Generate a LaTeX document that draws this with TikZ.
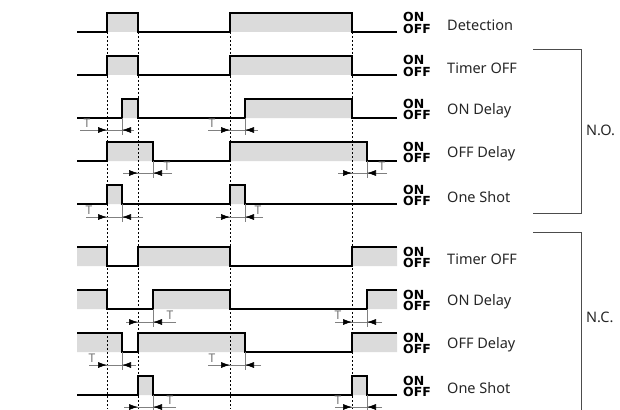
\documentclass[tikz,border=0pt]{standalone}
\usepackage{fontspec}
\setmainfont{Noto Sans}
\newfontfamily\onofffont{DejaVu Sans}
\usetikzlibrary{arrows.meta}

% T marker: y, low level, left tail, reference edge, output edge, right tail, x of the T
\newcommand{\tmark}[7]{%
  \draw[tline] (#3,#1) -- (#6,#1);
  \draw[tline] (#5,#2) -- (#5,#1+5);
  \draw[tarrow] (#3,#1) -- (#4,#1);
  \draw[tarrow] (#6,#1) -- (#5,#1);
  \node[tlabel] (T#1x#7) at (#7,#1-7) {T};
}

\begin{document}
\begin{tikzpicture}[x=1pt,y=-1pt,
    sig/.style={line width=1.2pt,line join=miter},
    sigfill/.style={fill=black!14},
    guide/.style={line width=0.6pt,dash pattern=on 2pt off 2pt},
    tline/.style={draw=black!50,line width=0.6pt},
    tarrow/.style={draw=black!50,line width=0.6pt,-{Latex[length=9pt,width=6pt,black]}},
    tlabel/.style={text=black!55,font=\fontsize{12}{12}\selectfont,inner sep=0pt},
    onoff/.style={anchor=base west,inner sep=0pt,font=\onofffont\bfseries\fontsize{12.5}{12.5}\selectfont},
    rowlabel/.style={anchor=west,inner sep=0pt,text=black!85,font=\fontsize{14.5}{14.5}\selectfont},
    bracket/.style={draw=black!70,line width=0.8pt}]
\useasboundingbox (0,0) rectangle (620,409);

% gray areas under the ON levels
\fill[sigfill] (107,13) rectangle (138,32) (230,13) rectangle (352,32);
\fill[sigfill] (107,56) rectangle (138,75) (230,56) rectangle (352,75);
\fill[sigfill] (122,99) rectangle (138,118) (245,99) rectangle (352,118);
\fill[sigfill] (107,142) rectangle (153,161) (230,142) rectangle (367,161);
\fill[sigfill] (107,185) rectangle (122,204) (230,185) rectangle (245,204);
\fill[sigfill] (77,247) rectangle (107,266) (138,247) rectangle (230,266) (352,247) rectangle (397,266);
\fill[sigfill] (77,290) rectangle (107,309) (153,290) rectangle (230,309) (367,290) rectangle (397,309);
\fill[sigfill] (77,333) rectangle (122,352) (138,333) rectangle (245,352) (352,333) rectangle (397,352);
\fill[sigfill] (138,376) rectangle (153,395) (352,376) rectangle (367,395);

% dotted guides from the detection edges
\draw[guide] (107,32) -- (107,409);
\draw[guide] (138,32) -- (138,409);
\draw[guide] (230,32) -- (230,409);
\draw[guide] (352,32) -- (352,409);

% N.O. outputs
\draw[sig] (77,32) -| (107,13) -| (138,32) -| (230,13) -| (352,32) -- (397,32);
\draw[sig] (77,75) -| (107,56) -| (138,75) -| (230,56) -| (352,75) -- (397,75);
\draw[sig] (77,118) -| (122,99) -| (138,118) -| (245,99) -| (352,118) -- (397,118);
\draw[sig] (77,161) -| (107,142) -| (153,161) -| (230,142) -| (367,161) -- (397,161);
\draw[sig] (77,204) -| (107,185) -| (122,204) -| (230,185) -| (245,204) -- (397,204);

% N.C. outputs
\draw[sig] (77,247) -| (107,266) -| (138,247) -| (230,266) -| (352,247) -- (397,247);
\draw[sig] (77,290) -| (107,309) -| (153,290) -| (230,309) -| (367,290) -- (397,290);
\draw[sig] (77,333) -| (122,352) -| (138,333) -| (245,352) -| (352,333) -- (397,333);
\draw[sig] (77,395) -| (138,376) -| (153,395) -| (352,376) -| (367,395) -- (397,395);

% delay times
\tmark{130}{118}{80}{107}{122}{134}{87}
\tmark{130}{118}{208}{230}{245}{258}{212}
\tmark{173}{161}{123}{138}{153}{172}{167}
\tmark{173}{161}{338}{352}{367}{387}{382}
\tmark{217}{204}{86}{107}{122}{143}{89}
\tmark{217}{204}{216}{230}{245}{263}{258}
\tmark{322}{309}{126}{138}{153}{176}{170}
\tmark{322}{309}{335}{352}{367}{382}{338}
\tmark{365}{352}{89}{107}{122}{136}{92}
\tmark{365}{352}{208}{230}{245}{261}{212}
\tmark{407}{395}{124}{138}{153}{176}{170}
\tmark{407}{395}{335}{352}{367}{382}{338}

% level marks and names
\node[onoff] (on1) at (403,22) {ON};   \node[onoff] (off1) at (403,33.5) {OFF};
\node[rowlabel] (det) at (447,25) {Detection};
\node[onoff] (on2) at (403,65) {ON};   \node[onoff] (off2) at (403,76.5) {OFF};
\node[rowlabel] (notoff) at (447,68) {Timer OFF};
\node[onoff] (on3) at (403,108) {ON};  \node[onoff] (off3) at (403,119.5) {OFF};
\node[rowlabel] (noon) at (447,111) {ON Delay};
\node[onoff] (on4) at (403,151) {ON};  \node[onoff] (off4) at (403,162.5) {OFF};
\node[rowlabel] (nooff) at (447,154) {OFF Delay};
\node[onoff] (on5) at (403,194) {ON};  \node[onoff] (off5) at (403,205.5) {OFF};
\node[rowlabel] (noshot) at (447,197) {One Shot};
\node[onoff] (on6) at (403,256) {ON};  \node[onoff] (off6) at (403,267.5) {OFF};
\node[rowlabel] (nctoff) at (447,259) {Timer OFF};
\node[onoff] (on7) at (403,299) {ON};  \node[onoff] (off7) at (403,310.5) {OFF};
\node[rowlabel] (ncon) at (447,302) {ON Delay};
\node[onoff] (on8) at (403,342) {ON};  \node[onoff] (off8) at (403,353.5) {OFF};
\node[rowlabel] (ncoff) at (447,345) {OFF Delay};
\node[onoff] (on9) at (403,385) {ON};  \node[onoff] (off9) at (403,396.5) {OFF};
\node[rowlabel] (ncshot) at (447,388) {One Shot};

% brackets
\draw[bracket] (533,49.5) -- (581,49.5) -- (581,213) -- (533,213);
\draw[bracket] (533,232.5) -- (581,232.5) -- (581,412);
\node[rowlabel] (no) at (586,130) {N.O.};
\node[rowlabel] (nc) at (586,317) {N.C.};
\end{tikzpicture}
\end{document}
